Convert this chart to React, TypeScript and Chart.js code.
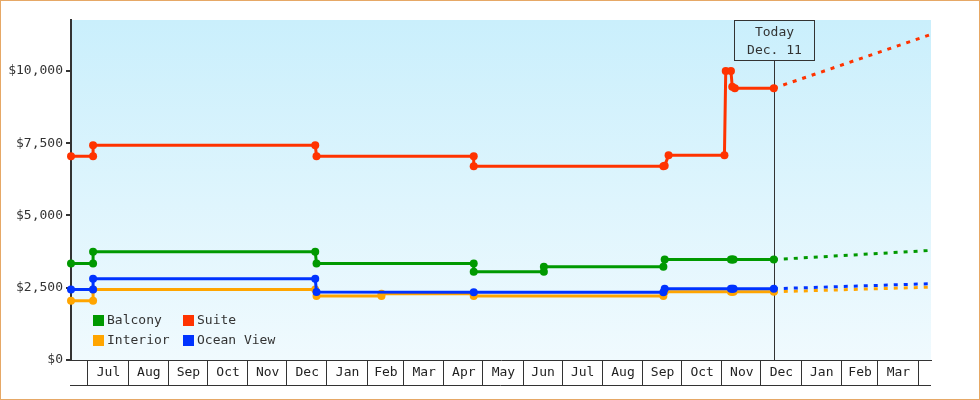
import React, { useEffect, useRef } from 'react';
import { Chart, registerables } from 'chart.js';

Chart.register(...registerables);

const DAY = 86400000;
const dayOf = (s: string) => Date.parse(s) / DAY;

const axisStart = '2017-06-18';
const axisEnd = '2019-04-11';
const todayDate = '2018-12-11';
const todayText = ['Today', 'Dec. 11'];

const monthStarts = [
  '2017-07-01', '2017-08-01', '2017-09-01', '2017-10-01', '2017-11-01', '2017-12-01',
  '2018-01-01', '2018-02-01', '2018-03-01', '2018-04-01', '2018-05-01', '2018-06-01',
  '2018-07-01', '2018-08-01', '2018-09-01', '2018-10-01', '2018-11-01', '2018-12-01',
  '2019-01-01', '2019-02-01', '2019-03-01', '2019-04-01',
];
const monthLabels = [
  'Jul', 'Aug', 'Sep', 'Oct', 'Nov', 'Dec', 'Jan', 'Feb', 'Mar', 'Apr', 'May',
  'Jun', 'Jul', 'Aug', 'Sep', 'Oct', 'Nov', 'Dec', 'Jan', 'Feb', 'Mar',
];

const yTicks = [0, 2500, 5000, 7500, 10000];
const yMax = 11760;

// Balcony
const balconyDates = [
  '2017-06-18', '2017-07-05', '2017-07-05', '2017-12-23', '2017-12-24', '2018-04-24',
  '2018-04-24', '2018-06-17', '2018-06-17', '2018-09-17', '2018-09-18', '2018-11-08',
  '2018-11-09', '2018-11-10', '2018-12-11',
];
const balconyPrices = [
  3340, 3340, 3740, 3740, 3340, 3340, 3050, 3050, 3225, 3225, 3475, 3475, 3475, 3475, 3475,
];
const balconyForecastDates = ['2018-12-11', '2019-04-11'];
const balconyForecast = [3475, 3790];

// Suite
const suiteDates = [
  '2017-06-18', '2017-07-05', '2017-07-05', '2017-12-23', '2017-12-24', '2018-04-24',
  '2018-04-24', '2018-09-17', '2018-09-18', '2018-09-21', '2018-11-03', '2018-11-04',
  '2018-11-08', '2018-11-09', '2018-11-11', '2018-12-11',
];
const suitePrices = [
  7050, 7050, 7430, 7430, 7050, 7050, 6700, 6700, 6720, 7080, 7080, 10000, 10000, 9450,
  9400, 9400,
];
const suiteForecastDates = ['2018-12-11', '2019-04-11'];
const suiteForecast = [9400, 11260];

// Interior
const interiorDates = [
  '2017-06-18', '2017-07-05', '2017-07-05', '2017-12-23', '2017-12-24', '2018-02-12',
  '2018-02-12', '2018-04-24', '2018-04-24', '2018-09-17', '2018-09-18', '2018-11-08',
  '2018-11-09', '2018-11-10', '2018-12-11',
];
const interiorPrices = [
  2050, 2050, 2440, 2440, 2210, 2210, 2290, 2290, 2210, 2210, 2360, 2360, 2360, 2360, 2360,
];
const interiorForecastDates = ['2018-12-11', '2019-04-11'];
const interiorForecast = [2360, 2520];

// Ocean View
const oceanDates = [
  '2017-06-18', '2017-07-05', '2017-07-05', '2017-12-23', '2017-12-24', '2018-04-24',
  '2018-09-17', '2018-09-18', '2018-11-08', '2018-11-09', '2018-11-10', '2018-12-11',
];
const oceanPrices = [
  2440, 2440, 2810, 2810, 2350, 2340, 2340, 2465, 2465, 2465, 2465, 2465,
];
const oceanForecastDates = ['2018-12-11', '2019-04-11'];
const oceanForecast = [2465, 2640];

const legendRows = [
  ['Balcony', 'Suite'],
  ['Interior', 'Ocean View'],
];

const COLORS: Record<string, string> = {
  Balcony: '#009900',
  Suite: '#ff3300',
  Interior: '#ffa500',
  'Ocean View': '#0033ff',
};

const FONT = '"DejaVu Sans Mono", monospace';
const INK = '#333333';

const toPoints = (dates: string[], values: number[]) =>
  dates.map((d, i) => ({ x: dayOf(d), y: values[i] }));

const solid = (label: string, dates: string[], values: number[], order: number) => ({
  label,
  data: toPoints(dates, values),
  borderColor: COLORS[label],
  backgroundColor: COLORS[label],
  pointBackgroundColor: COLORS[label],
  pointBorderWidth: 0,
  pointRadius: 4,
  pointHoverRadius: 4,
  borderWidth: 3,
  tension: 0,
  clip: false as const,
  order,
});

const dashed = (label: string, dates: string[], values: number[], order: number) => ({
  label: label + ' forecast',
  data: toPoints(dates, values),
  borderColor: COLORS[label],
  backgroundColor: COLORS[label],
  pointRadius: 0,
  borderWidth: 3,
  borderDash: [4, 6],
  tension: 0,
  clip: false as const,
  order,
});

export default function App() {
  const ref = useRef<HTMLCanvasElement | null>(null);

  useEffect(() => {
    if (!ref.current) return;

    const bgPlugin = {
      id: 'bgPlugin',
      beforeDraw(chart: any) {
        const { ctx, chartArea: a, width, height } = chart;
        ctx.save();
        ctx.fillStyle = '#ffffff';
        ctx.fillRect(0, 0, width, height);
        const g = ctx.createLinearGradient(0, a.top, 0, a.bottom);
        g.addColorStop(0, '#caeffc');
        g.addColorStop(1, '#f0fafe');
        ctx.fillStyle = g;
        ctx.fillRect(a.left, a.top, a.right - a.left, a.bottom - a.top);
        ctx.strokeStyle = '#e6a866';
        ctx.lineWidth = 1;
        ctx.strokeRect(0.5, 0.5, width - 1, height - 1);
        ctx.restore();
      },
    };

    const todayPlugin = {
      id: 'todayPlugin',
      beforeDatasetsDraw(chart: any) {
        const { ctx, chartArea: a } = chart;
        const x = Math.round(chart.scales.x.getPixelForValue(dayOf(todayDate))) + 0.5;
        const boxW = 80;
        const boxH = 40;
        const top = a.top + 0.5;
        ctx.save();
        ctx.strokeStyle = INK;
        ctx.lineWidth = 1;
        ctx.beginPath();
        ctx.moveTo(x, top + boxH);
        ctx.lineTo(x, a.bottom);
        ctx.stroke();
        ctx.strokeRect(x - boxW / 2, top, boxW, boxH);
        ctx.fillStyle = INK;
        ctx.font = '13px ' + FONT;
        ctx.textAlign = 'center';
        ctx.textBaseline = 'middle';
        ctx.fillText(todayText[0], x, top + 12);
        ctx.fillText(todayText[1], x, top + 30);
        ctx.restore();
      },
    };

    const axisPlugin = {
      id: 'axisPlugin',
      afterDraw(chart: any) {
        const { ctx, chartArea: a } = chart;
        const xs = chart.scales.x;
        ctx.save();
        ctx.strokeStyle = INK;
        ctx.lineWidth = 1;
        ctx.beginPath();
        ctx.moveTo(a.left - 1, a.bottom + 25.5);
        ctx.lineTo(a.right, a.bottom + 25.5);
        ctx.stroke();
        ctx.fillStyle = '#222222';
        ctx.font = '13px ' + FONT;
        ctx.textAlign = 'center';
        ctx.textBaseline = 'middle';
        monthLabels.forEach((lab, i) => {
          const x0 = xs.getPixelForValue(dayOf(monthStarts[i]));
          const x1 = xs.getPixelForValue(dayOf(monthStarts[i + 1]));
          ctx.fillText(lab, (x0 + x1) / 2 + 0.5, a.bottom + 13);
        });
        ctx.restore();
      },
    };

    const legendPlugin = {
      id: 'legendPlugin',
      afterDatasetsDraw(chart: any) {
        const { ctx, chartArea: a } = chart;
        ctx.save();
        ctx.font = '13px ' + FONT;
        ctx.textAlign = 'left';
        ctx.textBaseline = 'middle';
        legendRows.forEach((row, r) => {
          row.forEach((name, c) => {
            const x = a.left + 22 + c * 90;
            const y = a.bottom - 45 + r * 20;
            ctx.fillStyle = COLORS[name];
            ctx.fillRect(x, y, 11, 11);
            ctx.fillStyle = INK;
            ctx.fillText(name, x + 14, y + 6);
          });
        });
        ctx.restore();
      },
    };

    const chart = new Chart(ref.current, {
      type: 'line',
      data: {
        datasets: [
          solid('Ocean View', oceanDates, oceanPrices, 0),
          solid('Interior', interiorDates, interiorPrices, 1),
          solid('Balcony', balconyDates, balconyPrices, 2),
          solid('Suite', suiteDates, suitePrices, 3),
          dashed('Ocean View', oceanForecastDates, oceanForecast, 4),
          dashed('Interior', interiorForecastDates, interiorForecast, 5),
          dashed('Balcony', balconyForecastDates, balconyForecast, 6),
          dashed('Suite', suiteForecastDates, suiteForecast, 7),
        ] as any,
      },
      options: {
        responsive: false,
        animation: false,
        devicePixelRatio: 1,
        layout: { padding: { left: 0, top: 20, right: 49, bottom: 0 } },
        plugins: {
          legend: { display: false },
          tooltip: { enabled: false },
        },
        events: [],
        scales: {
          x: {
            type: 'linear',
            min: dayOf(axisStart),
            max: dayOf(axisEnd),
            afterBuildTicks: (s: any) => {
              s.ticks = monthStarts.map((d) => ({ value: dayOf(d) }));
            },
            afterFit: (s: any) => {
              s.height = 40;
            },
            ticks: { display: false },
            grid: {
              drawOnChartArea: false,
              drawTicks: true,
              tickLength: 25,
              color: INK,
              tickColor: INK,
              lineWidth: 1,
            },
            border: { display: true, color: INK, width: 1 },
          },
          y: {
            type: 'linear',
            min: 0,
            max: yMax,
            afterBuildTicks: (s: any) => {
              s.ticks = yTicks.map((v) => ({ value: v }));
            },
            afterFit: (s: any) => {
              s.width = 71;
            },
            ticks: {
              color: INK,
              padding: 3,
              font: { family: FONT, size: 13 },
              callback: (v: any) => '$' + Number(v).toLocaleString('en-US'),
            },
            grid: {
              drawOnChartArea: false,
              drawTicks: true,
              tickLength: 5,
              color: INK,
              tickColor: INK,
              lineWidth: 2,
            },
            border: { display: true, color: INK, width: 2 },
          },
        },
      } as any,
      plugins: [bgPlugin, todayPlugin, axisPlugin, legendPlugin],
    });

    return () => chart.destroy();
  }, []);

  return (
    <div style={{ position: 'fixed', left: 0, top: 0, width: 980, height: 400 }}>
      <canvas ref={ref} width={980} height={400} style={{ display: 'block', width: 980, height: 400 }} />
    </div>
  );
}
